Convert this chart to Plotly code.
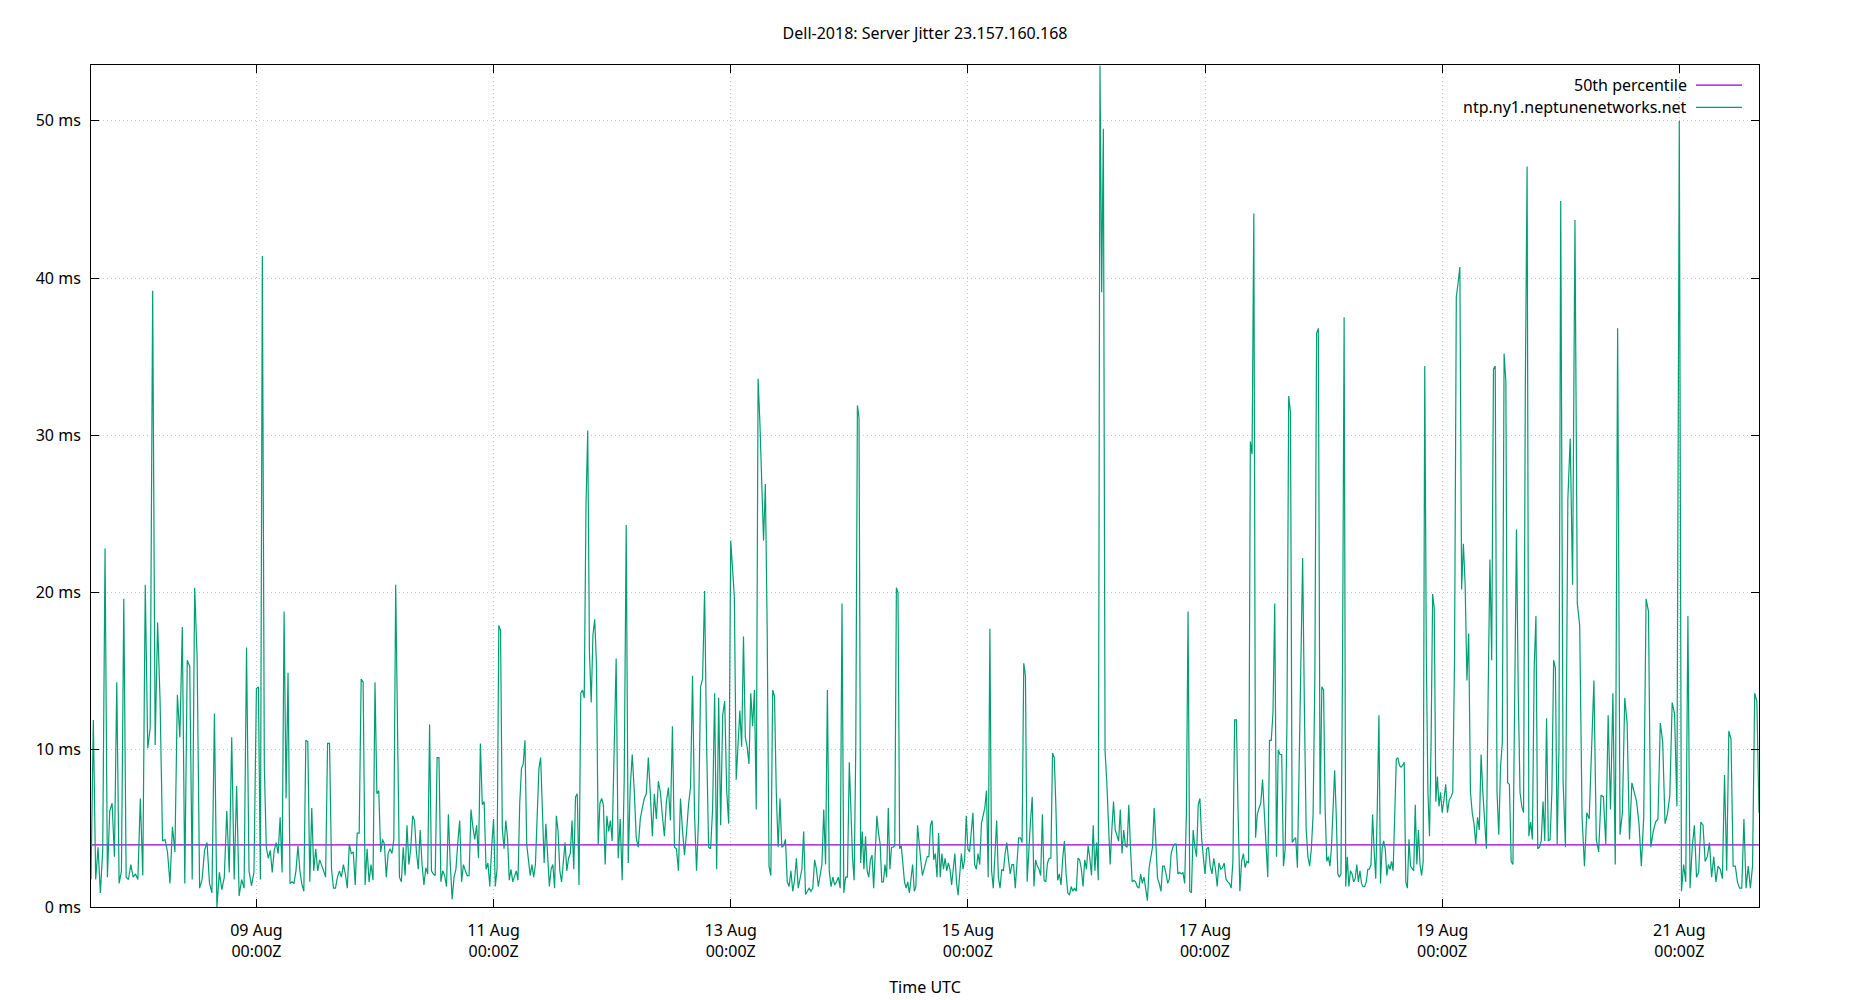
import pandas as pd
import plotly.graph_objs as go

# jitter samples (ms) per UTC day
aug07 = [1.75, 11.9, 1.75, 3.8, 0.9, 3.6, 22.8, 1.9, 6.1, 6.6, 3.2, 14.3, 1.5, 2.3, 19.6, 1.9, 1.75, 2.7,
         1.9, 2.1]
aug08 = [1.75, 6.9, 2.0, 20.5, 10.1, 11.4, 39.2, 10.3, 18.1, 13.1, 4.2, 4.3, 3.5, 1.5, 5.1, 3.5, 13.5, 10.8,
         17.8, 1.5, 15.7, 15.3, 1.75, 20.3, 15.8, 1.2, 1.75, 3.6, 4.1, 1.5, 0.9, 12.3, 0.0, 2.2, 1.1, 1.9,
         6.1, 2.2, 10.8, 1.75, 7.7, 0.7, 1.75, 1.2, 16.5, 2.3, 1.35, 2.2]
aug09 = [13.9, 14.0, 1.75, 41.4, 8.9, 3.8, 3.1, 3.6, 2.2, 3.6, 4.1, 3.4, 5.7, 2.2, 18.8, 6.9, 14.9, 1.5,
         1.6, 1.5, 2.3, 3.9, 2.3, 1.45, 1.0, 10.6, 10.5, 1.6, 6.3, 2.3, 3.7, 2.3, 3.0, 2.7, 2.3, 1.9, 10.4,
         10.4, 2.4, 1.2, 1.2, 1.9, 2.3, 1.9, 2.7, 2.1, 1.2, 4.0, 3.4, 3.5, 1.4, 4.7, 4.7, 14.5, 14.3, 1.4,
         3.7, 1.6, 2.7, 1.7]
aug10 = [14.3, 7.2, 7.4, 3.5, 4.3, 4.0, 1.9, 3.4, 3.7, 3.4, 4.3, 20.5, 11.9, 1.9, 1.6, 3.8, 2.0, 5.2, 2.7,
         3.7, 5.8, 5.5, 3.5, 2.4, 4.9, 2.7, 1.4, 2.5, 2.1, 11.6, 2.3, 2.1, 2.0, 9.5, 9.5, 1.6, 2.3, 2.0,
         1.3, 5.9, 2.7, 0.5, 1.9, 2.4, 4.1, 5.5, 1.6, 2.7, 2.3, 2.0, 2.0, 6.2, 5.1, 4.3, 5.2, 3.1, 10.4,
         6.5, 6.7, 2.4, 2.8, 1.3, 3.8]
aug11 = [5.6, 1.3, 2.4, 17.9, 17.6, 5.0, 3.7, 5.5, 4.4, 1.7, 2.4, 1.6, 1.9, 2.3, 1.7, 6.6, 8.8, 9.1, 10.6,
         4.0, 3.0, 2.0, 2.7, 1.9, 2.7, 6.3, 8.8, 9.5, 5.5, 2.8, 5.3, 3.5, 1.3, 2.4, 2.7, 1.2, 5.8, 4.8,
         2.3, 1.6, 2.8, 4.1, 2.3, 3.1, 3.4, 5.5, 2.4, 7.0, 7.2, 1.4, 13.6, 13.8, 13.3, 25.5, 30.3, 16.1,
         13.0, 17.3, 18.3, 15.5, 4.0, 6.6, 6.9, 6.5, 2.7, 5.8, 4.8, 5.5]
aug12 = [4.2, 10.8, 15.8, 3.1, 5.6, 1.7, 8.0, 24.3, 2.8, 7.6, 9.7, 7.4, 4.4, 3.8, 5.6, 6.3, 6.9, 7.2, 9.5,
         7.2, 4.5, 7.2, 5.6, 8.0, 7.3, 5.8, 4.5, 6.7, 7.6, 5.5, 11.5, 3.8, 3.7, 2.3, 6.9, 4.9, 3.3, 4.7,
         6.5, 7.6, 14.7, 5.9, 2.3, 5.6, 14.0, 14.5, 20.1, 10.4, 3.8, 3.7, 6.3, 13.6, 2.4, 13.3, 5.2, 12.2,
         13.1, 7.4, 5.3]
aug13 = [23.3, 21.1, 19.7, 8.1, 10.1, 12.5, 10.2, 17.2, 10.8, 10.2, 9.1, 13.6, 11.5, 13.8, 6.2, 33.6, 30.8,
         26.9, 23.3, 26.9, 17.5, 2.6, 2.0, 13.8, 13.4, 7.2, 3.8, 6.9, 3.8, 3.9, 4.3, 1.6, 1.3, 2.3, 1.0,
         1.7, 3.1, 1.2, 1.7, 2.4, 4.8, 0.8, 1.0, 1.2, 1.0, 1.2, 3.0, 2.4, 1.3, 2.0, 2.7, 6.2, 2.7, 13.8,
         2.3, 1.3, 1.9, 1.4, 1.6, 1.9, 1.2, 19.3, 0.9, 1.9, 1.9]
aug14 = [9.2, 6.3, 3.1, 1.7, 10.2, 31.9, 31.1, 2.8, 4.8, 2.4, 4.5, 2.3, 1.9, 3.0, 3.3, 1.2, 4.1, 5.8, 4.7,
         4.0, 1.6, 1.6, 2.7, 1.9, 6.3, 2.4, 3.8, 3.8, 3.9, 20.3, 20.0, 3.7, 3.9, 2.7, 1.6, 1.2, 1.6, 0.9,
         1.9, 2.7, 1.0, 1.3, 5.2, 3.9, 3.0, 2.0, 2.4, 2.8, 3.2, 3.2, 5.2, 5.5, 3.0, 3.4, 1.9, 4.7, 1.9,
         3.4, 2.4, 3.1, 2.3, 2.8, 2.4, 1.4, 2.7, 3.4, 1.6, 0.75, 2.1, 3.4, 2.4, 3.0, 5.8]
aug15 = [3.7, 3.5, 4.7, 6.0, 2.7, 2.4, 3.4, 2.7, 5.3, 5.8, 6.3, 7.4, 1.9, 17.7, 2.3, 1.2, 3.5, 5.5, 1.9,
         1.2, 2.4, 2.3, 3.4, 4.1, 3.0, 2.1, 2.7, 2.7, 1.2, 3.1, 4.4, 4.4, 4.1, 15.5, 14.7, 1.6, 4.1, 5.5,
         7.0, 1.3, 3.0, 2.6, 2.4, 2.0, 5.9, 1.7, 1.6, 2.8, 3.1, 3.1, 9.8, 9.5, 6.3, 1.7, 2.1, 1.4, 3.1,
         4.2, 2.1, 0.9, 0.75, 1.3, 1.0, 1.2, 1.0, 3.1, 3.0, 2.4, 1.3, 3.0]
aug16 = [2.4, 3.9, 3.1, 2.0, 5.2, 2.3, 4.1, 1.7, 53.5, 39.1, 49.5, 9.9, 8.0, 5.3, 2.7, 4.9, 6.7, 4.9, 4.5,
         4.2, 6.2, 3.4, 4.9, 3.9, 3.8, 6.5, 3.8, 1.6, 1.7, 1.6, 1.3, 1.2, 2.1, 1.5, 1.9, 1.0, 0.4, 2.5,
         3.2, 3.8, 6.3, 4.1, 1.8, 1.5, 1.0, 2.6, 2.6, 2.1, 1.5, 1.8, 3.4, 3.8, 4.0, 4.0, 2.1, 2.2, 2.1,
         2.2, 1.5, 5.9, 18.8, 1.0, 0.9, 4.9, 3.8, 3.2, 6.5, 6.9, 4.4, 3.2]
aug17 = [2.1, 3.7, 3.8, 2.6, 2.1, 3.1, 2.4, 1.3, 2.8, 2.4, 2.5, 2.8, 1.8, 1.6, 1.5, 1.2, 2.9, 11.9, 11.9,
         5.9, 1.0, 2.9, 3.4, 2.5, 2.9, 2.8, 29.6, 28.8, 44.1, 4.4, 5.9, 6.3, 6.6, 8.1, 6.0, 3.7, 1.9, 10.6,
         10.6, 12.4, 19.3, 3.2, 10.0, 9.7, 9.7, 2.6, 3.7, 11.8, 32.5, 31.5, 4.1, 4.3, 4.4, 2.5, 9.6, 15.6,
         22.2, 12.6, 5.0, 3.2, 2.6, 3.7, 5.9, 14.7, 36.5, 36.8, 5.9, 14.0]
aug18 = [13.8, 6.2, 2.9, 3.2, 2.6, 3.8, 5.9, 8.7, 5.9, 2.1, 1.9, 2.1, 15.6, 37.5, 1.3, 3.2, 1.3, 2.3, 2.1,
         1.6, 1.8, 2.7, 1.6, 2.3, 1.5, 1.3, 1.3, 1.6, 2.4, 2.4, 2.7, 5.9, 3.5, 1.8, 6.5, 12.2, 1.5, 3.7,
         4.2, 3.7, 2.0, 2.7, 2.4, 2.9, 2.3, 6.4, 9.4, 9.5, 9.0, 8.9, 9.0, 9.2, 1.6, 1.2, 4.3, 2.6, 2.4,
         2.3, 6.5, 2.7, 4.9, 2.7, 2.0, 2.9, 34.4, 15.8, 7.3, 4.5, 10.5, 19.9, 19.0, 6.7, 8.3, 6.4, 7.3]
aug19 = [6.0, 6.8, 7.8, 6.0, 6.8, 7.0, 7.3, 15.8, 38.8, 39.7, 40.7, 20.2, 23.1, 20.5, 14.4, 17.4, 7.3, 6.0,
         5.3, 4.0, 5.7, 4.9, 9.7, 7.3, 5.7, 3.7, 13.6, 22.1, 15.7, 34.2, 34.4, 7.3, 4.6, 8.9, 10.5, 35.2,
         33.4, 7.9, 7.8, 2.9, 2.7, 13.6, 24.0, 13.6, 7.3, 6.4, 6.0, 33.1, 47.1, 4.5, 5.4, 4.3, 15.2, 18.5,
         3.7, 3.8, 4.2, 6.7, 4.2, 12.0, 4.2, 4.3, 7.3, 15.7, 15.2, 4.0, 10.1]
aug20 = [44.9, 8.0, 3.8, 25.9, 29.8, 20.5, 43.7, 19.3, 17.9, 5.7, 2.6, 6.0, 5.6, 9.8, 14.4, 4.3, 3.5, 7.1,
         7.0, 4.0, 12.2, 6.2, 13.6, 2.7, 36.8, 4.6, 6.0, 13.3, 11.7, 4.3, 7.9, 7.3, 6.7, 5.3, 2.6, 5.7,
         19.6, 18.8, 3.8, 4.8, 5.4, 5.6, 11.7, 10.5, 5.3, 5.9, 7.1, 13.0, 12.3, 6.4]
aug21 = [50.0, 1.0, 2.7, 1.6, 18.5, 1.2, 3.8, 5.2, 1.9, 2.2, 5.4, 5.2, 2.9, 3.2, 4.1, 1.9, 3.2, 1.6, 2.6,
         2.4, 1.8, 8.4, 2.3, 11.2, 10.7, 2.6, 2.6, 1.6, 1.2, 1.2, 5.6, 1.2, 2.6, 1.2, 2.6, 13.6, 13.1, 6.0]

p50 = 3.95  # ms, 50th percentile line

first_sample = "2024-08-07 14:31"
last_sample = "2024-08-21 16:08"

tick_dates = ["2024-08-09", "2024-08-11", "2024-08-13", "2024-08-15", "2024-08-17", "2024-08-19", "2024-08-21"]
tick_text = ["09 Aug<br>00:00Z", "11 Aug<br>00:00Z", "13 Aug<br>00:00Z", "15 Aug<br>00:00Z",
             "17 Aug<br>00:00Z", "19 Aug<br>00:00Z", "21 Aug<br>00:00Z"]
y_ticks = [0, 10, 20, 30, 40, 50]
y_text = ["0 ms", "10 ms", "20 ms", "30 ms", "40 ms", "50 ms"]

days = [aug07, aug08, aug09, aug10, aug11, aug12, aug13, aug14, aug15, aug16, aug17, aug18, aug19, aug20, aug21]


def spread(values, start, end, closed=False):
    # samples are evenly spaced within a day
    n = len(values)
    step = (end - start) / ((n - 1) if closed else n)
    return [start + step * k for k in range(n)]


t0 = pd.Timestamp(first_sample)
t1 = pd.Timestamp(last_sample)
times, jitter = [], []
for i, vals in enumerate(days):
    day0 = pd.Timestamp("2024-08-07") + pd.Timedelta(days=i)
    start = max(day0, t0)
    if i == len(days) - 1:
        times += spread(vals, start, t1, closed=True)
    else:
        times += spread(vals, start, day0 + pd.Timedelta(days=1))
    jitter += vals

font = dict(family="Noto Sans, DejaVu Sans, sans-serif", size=16, color="#000000")
purple = "#9400d3"
green = "#009e73"

fig = go.Figure()
fig.add_trace(go.Scatter(x=[t0, t1], y=[p50, p50], mode="lines", name="50th percentile",
                         line=dict(color=purple, width=1.2)))
fig.add_trace(go.Scatter(x=times, y=jitter, mode="lines", name="ntp.ny1.neptunenetworks.net",
                         line=dict(color=green, width=1.2)))

axis_style = dict(showline=True, linecolor="black", linewidth=1, mirror="ticks", ticks="inside", ticklen=8,
                  tickcolor="black", showgrid=True, gridcolor="#c4c4c4", griddash="1px,3px", gridwidth=1,
                  zeroline=False, tickfont=font)

fig.update_xaxes(axis_style, type="date", range=[t0, t1], tickvals=[pd.Timestamp(d) for d in tick_dates],
                 ticktext=tick_text, ticklabelstandoff=9,
                 title=dict(text="Time UTC", font=font, standoff=20))
fig.update_yaxes(axis_style, range=[0, 53.55], tickvals=y_ticks, ticktext=y_text, ticklabelstandoff=6)

# gnuplot style key: text first, sample line on the right
legend_rows = [("50th percentile", purple, 0.9762), ("ntp.ny1.neptunenetworks.net", green, 0.9497)]
for label, colour, ypos in legend_rows:
    fig.add_annotation(x=0.9582, y=ypos, xref="paper", yref="paper", text=label, showarrow=False,
                       xanchor="right", yanchor="middle", font=font)
    fig.add_shape(type="line", xref="paper", yref="paper", x0=0.9622, x1=0.9898, y0=ypos, y1=ypos,
                  line=dict(color=colour, width=1.2))

# the page body adds an 8px offset, so the margins are shifted to compensate
fig.update_layout(
    width=1850, height=1000,
    title=dict(text="Dell-2018: Server Jitter 23.157.160.168", x=0.4957, xanchor="center", y=0.975,
               yanchor="middle", font=font),
    margin=dict(l=83, r=99, t=57, b=101),
    paper_bgcolor="white", plot_bgcolor="white",
    showlegend=False,
    font=font,
)

fig.write_html("out.html")
